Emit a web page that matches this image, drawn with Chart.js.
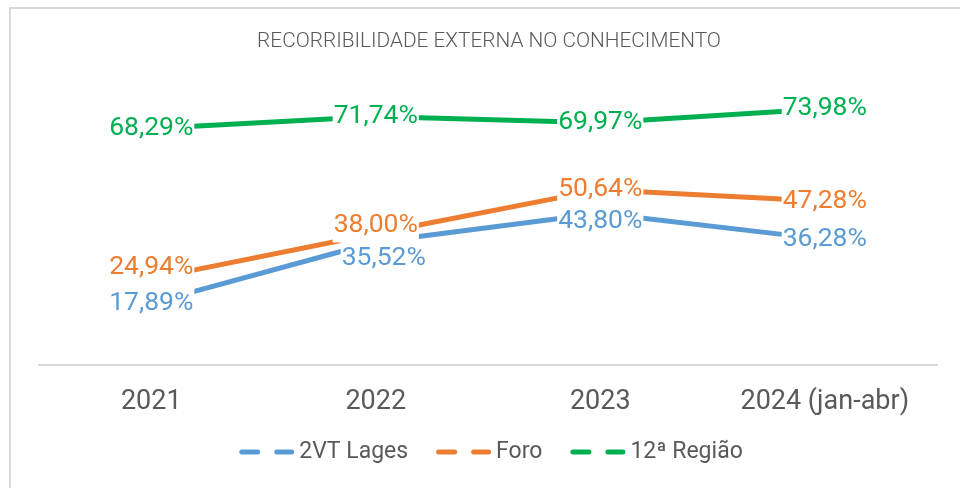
<!DOCTYPE html>
<html>
<head>
<meta charset="utf-8">
<script src="https://cdn.jsdelivr.net/npm/chart.js@4/dist/chart.umd.min.js"></script>
<style>
html,body{margin:0;padding:0;background:#fff;}
#wrap{position:relative;width:960px;height:488px;}
</style>
</head>
<body>
<div id="wrap"><canvas id="c" width="960" height="488"></canvas></div>
<script>
const chartTitle = 'RECORRIBILIDADE EXTERNA NO CONHECIMENTO';
const categories = ['2021', '2022', '2023', '2024 (jan-abr)'];
const seriesNames = ['2VT Lages', 'Foro', '12ª Região'];
const lages = [17.89, 35.52, 43.80, 36.28];
const foro = [24.94, 38.00, 50.64, 47.28];
const regiao = [68.29, 71.74, 69.97, 73.98];

const colors = ['#5B9BD5', '#ED7D31', '#00B050'];
// label offsets (style only)
const labelDX = [[0, 8, 0, 0], [0, 0, 0, 0], [0, 0, 0, 0]];
const labelDY = [[0, 16, 8, 0], [-11, -8, 0, 0], [0, 0, 0, 0]];

const FONT = 'Roboto, "Open Sans", sans-serif';

const framePlugin = {
  id: 'frame',
  beforeDraw(chart) {
    const ctx = chart.ctx;
    ctx.save();
    ctx.fillStyle = '#fff';
    ctx.fillRect(0, 0, chart.width, chart.height);
    ctx.strokeStyle = '#d9d9d9';
    ctx.lineWidth = 2;
    ctx.beginPath();
    ctx.moveTo(10, chart.height);
    ctx.lineTo(10, 8);
    ctx.lineTo(chart.width, 8);
    ctx.stroke();
    // title
    ctx.fillStyle = '#595959';
    ctx.font = '300 20.8px ' + FONT;
    ctx.textAlign = 'center';
    ctx.textBaseline = 'middle';
    ctx.fillText(chartTitle, 489, 42);
    ctx.restore();
  }
};

const labelPlugin = {
  id: 'vlabels',
  afterDatasetsDraw(chart) {
    const ctx = chart.ctx;
    ctx.save();
    ctx.font = '400 26.5px ' + FONT;
    ctx.textAlign = 'center';
    ctx.textBaseline = 'middle';
    chart.data.datasets.forEach((ds, di) => {
      const meta = chart.getDatasetMeta(di);
      meta.data.forEach((pt, i) => {
        const x = pt.x + labelDX[di][i];
        const y = pt.y + labelDY[di][i];
        const txt = ds.data[i].toFixed(2).replace('.', ',') + '%';
        const w = ctx.measureText(txt).width;
        ctx.fillStyle = '#fff';
        ctx.fillRect(x - w / 2 - 1, y - 17, w + 2, 34);
      });
    });
    chart.data.datasets.forEach((ds, di) => {
      const meta = chart.getDatasetMeta(di);
      meta.data.forEach((pt, i) => {
        const x = pt.x + labelDX[di][i];
        const y = pt.y + labelDY[di][i];
        const txt = ds.data[i].toFixed(2).replace('.', ',') + '%';
        ctx.fillStyle = ds.borderColor;
        ctx.fillText(txt, x, y);
      });
    });
    ctx.restore();
  }
};

const legendPlugin = {
  id: 'customLegend',
  afterDraw(chart) {
    const ctx = chart.ctx;
    ctx.save();
    ctx.font = '400 23px ' + FONT;
    ctx.textBaseline = 'middle';
    ctx.textAlign = 'left';
    const markerW = 55, textGap = 5, itemGap = 28, cy = 452;
    const items = chart.data.datasets.map(ds => ({ label: ds.label, color: ds.borderColor, tw: ctx.measureText(ds.label).width }));
    let total = 0;
    items.forEach((it, i) => { total += markerW + textGap + it.tw + (i < items.length - 1 ? itemGap : 0); });
    let x = 491 - total / 2;
    items.forEach(it => {
      ctx.strokeStyle = it.color;
      ctx.lineWidth = 5;
      ctx.lineCap = 'round';
      ctx.setLineDash([16, 19]);
      ctx.beginPath();
      ctx.moveTo(x + 2.5, cy);
      ctx.lineTo(x + markerW - 2.5, cy);
      ctx.stroke();
      ctx.setLineDash([]);
      ctx.fillStyle = '#595959';
      ctx.fillText(it.label, x + markerW + textGap, cy);
      x += markerW + textGap + it.tw + itemGap;
    });
    ctx.restore();
  }
};

const seriesData = [lages, foro, regiao];

new Chart(document.getElementById('c'), {
  type: 'line',
  data: {
    labels: categories,
    datasets: seriesData.map((d, i) => ({
      label: seriesNames[i],
      data: d,
      borderColor: colors[i],
      backgroundColor: colors[i],
      borderWidth: 5,
      pointRadius: 0,
      pointHoverRadius: 0,
      tension: 0,
      borderCapStyle: 'round',
      borderJoinStyle: 'round',
      fill: false
    }))
  },
  options: {
    responsive: false,
    animation: false,
    events: [],
    layout: { padding: { left: 39, right: 23, top: 88, bottom: 0 } },
    plugins: {
      legend: { display: false },
      title: { display: false },
      tooltip: { enabled: false }
    },
    scales: {
      x: {
        offset: true,
        grid: { display: false },
        border: { display: true, color: '#d9d9d9', width: 2 },
        ticks: {
          color: '#595959',
          font: { family: FONT, size: 27 },
          padding: 13,
          maxRotation: 0,
          autoSkip: false
        },
        afterFit(s) { s.height = 123; }
      },
      y: { display: false, min: 0, max: 80 }
    }
  },
  plugins: [framePlugin, labelPlugin, legendPlugin]
});
</script>
</body>
</html>
